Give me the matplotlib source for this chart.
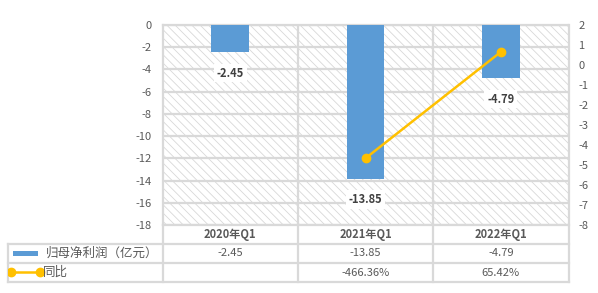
import matplotlib
matplotlib.use("Agg")
import matplotlib.pyplot as plt
from matplotlib.patches import Rectangle
from matplotlib.lines import Line2D
import numpy as np

plt.rcParams['font.family'] = ['Noto Sans CJK SC', 'DejaVu Sans']
plt.rcParams['axes.unicode_minus'] = False
plt.rcParams['hatch.linewidth'] = 0.6

# data
quarters = ['2020年Q1', '2021年Q1', '2022年Q1']
profit = [-2.45, -13.85, -4.79]          # 归母净利润（亿元）
yoy = [np.nan, -4.6636, 0.6542]          # 同比 (ratio)
profit_labels = ['-2.45', '-13.85', '-4.79']
yoy_labels = ['', '-466.36%', '65.42%']
series_names = ['归母净利润（亿元）', '同比']

bar_color = '#5B9BD5'
line_color = '#FFC000'
grid_color = '#d9d9d9'
text_color = '#595959'

W, H = 598, 293
fig = plt.figure(figsize=(W / 100, H / 100), dpi=100)

# main plot area
px_l, px_r, px_t, px_b = 162.5, 568.5, 25, 225
ax = fig.add_axes([px_l / W, (H - px_b) / H, (px_r - px_l) / W, (px_b - px_t) / H])
x = np.arange(len(quarters))
ax.set_xlim(-0.5, len(quarters) - 0.5)
ax.set_ylim(-18, 0)

# hatched background
bg = Rectangle((0, 0), 1, 1, transform=ax.transAxes, facecolor='white',
               edgecolor='#d8d8d8', linewidth=0, hatch='\\\\\\\\', zorder=0)
ax.add_patch(bg)

ax.set_yticks(np.arange(-18, 1, 2))
ax.grid(axis='y', color=grid_color, linewidth=1.6, zorder=1)
for b in np.arange(0.5, len(quarters) - 0.5, 1):
    ax.axvline(b, color=grid_color, linewidth=1.6, zorder=1)
for s in ax.spines.values():
    s.set_color(grid_color)
    s.set_linewidth(1.6)
ax.set_xticks([])
ax.tick_params(axis='y', length=0, labelsize=8, labelcolor=text_color, pad=8)

ax.bar(x, profit, width=0.28, color=bar_color, zorder=3)
for xi, v, lab in zip(x, profit, profit_labels):
    ax.annotate(lab, (xi, v), xytext=(0, -15), textcoords='offset points',
                ha='center', va='center', fontsize=8, fontweight='bold', color='#404040',
                bbox=dict(boxstyle='square,pad=0.25', fc='white', ec='none'), zorder=5)

ax2 = ax.twinx()
ax2.set_ylim(-8, 2)
ax2.set_yticks(np.arange(-8, 3, 1))
ax2.plot(x, yoy, color=line_color, linewidth=1.8, marker='o', markersize=6, zorder=4)
for s in ax2.spines.values():
    s.set_visible(False)
ax2.tick_params(axis='y', length=0, labelsize=8, labelcolor=text_color, pad=7)

# data table below
t_l, t_t, t_b = 8, 225, 282
left_units = (px_l - t_l) / ((px_r - px_l) / len(quarters))
tax = fig.add_axes([t_l / W, (H - t_b) / H, (px_r - t_l) / W, (t_b - t_t) / H])
tax.set_xlim(-0.5 - left_units, len(quarters) - 0.5)
tax.set_ylim(0, 3)
tax.axis('off')
x0 = -0.5 - left_units
lw = 1.6
for yv in [0, 1, 2]:
    tax.plot([x0, len(quarters) - 0.5], [yv, yv], color=grid_color, linewidth=lw, clip_on=False)
tax.plot([x0, x0], [0, 2], color=grid_color, linewidth=lw, clip_on=False)
for b in np.arange(-0.5, len(quarters), 1):
    tax.plot([b, b], [0, 3], color=grid_color, linewidth=lw, clip_on=False)

for xi, q, p, yl in zip(x, quarters, profit_labels, yoy_labels):
    tax.text(xi, 2.5, q, ha='center', va='center', fontsize=8, fontweight='bold', color=text_color)
    tax.text(xi, 1.5, p, ha='center', va='center', fontsize=8, color=text_color)
    tax.text(xi, 0.5, yl, ha='center', va='center', fontsize=8, color=text_color)

# legend keys in table
tax.add_patch(Rectangle((x0 + 0.04, 1.38), 0.18, 0.26, facecolor=bar_color, edgecolor='none'))
tax.text(x0 + 0.28, 1.5, series_names[0], ha='left', va='center', fontsize=9, color=text_color)
tax.add_line(Line2D([x0 + 0.02, x0 + 0.24], [0.55, 0.55], color=line_color, linewidth=1.8,
                    marker='o', markersize=6))
tax.text(x0 + 0.26, 0.5, series_names[1], ha='left', va='center', fontsize=9, color=text_color)

fig.savefig('out.png', dpi=100)
